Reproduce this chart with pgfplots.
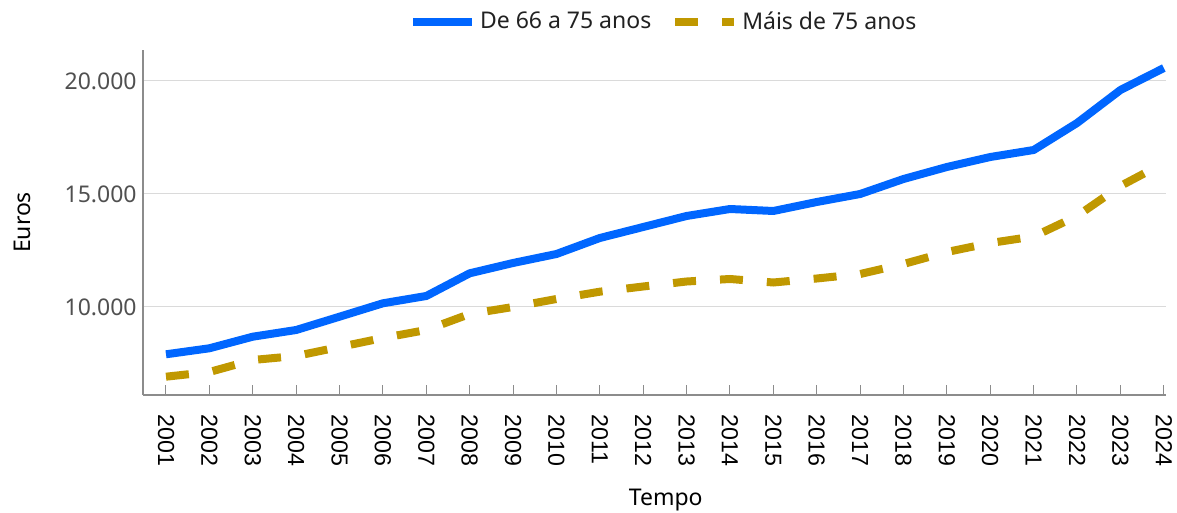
\documentclass[border=0pt]{standalone}
\usepackage{pgfplots}
\pgfplotsset{compat=1.18}
\usepackage{fontspec}
\setmainfont{Noto Sans}
\newfontfamily\arialfont{Liberation Sans}
\definecolor{cblue}{RGB}{0,102,255}
\definecolor{cgold}{RGB}{192,152,0}
\definecolor{axgray}{RGB}{140,140,140}
\definecolor{gridgray}{RGB}{218,218,218}
\definecolor{tickgray}{RGB}{80,80,80}
\begin{document}
\begin{tikzpicture}
\useasboundingbox (0,0) rectangle (588.5pt,256.5pt);
\begin{axis}[
  at={(71.5pt,59pt)}, anchor=south west,
  scale only axis, width=511.5pt, height=172.5pt,
  xmin=2000.47, xmax=2024.05,
  ymin=6106, ymax=21372,
  axis x line*=bottom, axis y line*=left,
  axis line style={axgray, line width=0.6pt},
  xtick={2001,...,2024},
  xticklabels={2001,2002,2003,2004,2005,2006,2007,2008,2009,2010,2011,2012,2013,2014,2015,2016,2017,2018,2019,2020,2021,2022,2023,2024},
  xtick align=inside,
  major tick length=5pt,
  xtick style={axgray, line width=0.5pt},
  xticklabel style={rotate=-90, anchor=west, inner sep=0pt, font=\arialfont\fontsize{11.6pt}{12pt}\selectfont, text=black},
  xticklabel shift=9.5pt,
  scaled y ticks=false,
  ytick={10000,15000,20000},
  yticklabels={10.000,15.000,20.000},
  ytick style={draw=none},
  yticklabel style={inner sep=0pt, font=\fontsize{11.5pt}{12pt}\selectfont, text=tickgray},
  yticklabel shift=3pt,
  ymajorgrids, grid style={gridgray, line width=0.5pt},
  xlabel={Tempo}, ylabel={Euros},
  every axis x label/.style={at={(axis description cs:0.511,-0.304)}, anchor=center, font=\fontsize{11.5pt}{12pt}\selectfont},
  every axis y label/.style={at={(axis description cs:-0.1183,0.5)}, rotate=90, anchor=center, font=\fontsize{11.5pt}{12pt}\selectfont},
  legend columns=2,
  legend style={at={(axis description cs:0.51,1.081)}, anchor=center, draw=none, fill=none,
    font=\fontsize{11.5pt}{12pt}\selectfont, text=black!87,
    /tikz/every even column/.append style={column sep=8pt}},
  legend image code/.code={\draw[#1] (0pt,0pt) -- (29.5pt,0pt);},
  clip=false,
]
\addplot[cblue, line width=4pt, line join=round] coordinates {
(2001,7907) (2002,8173) (2003,8686) (2004,8982) (2005,9571) (2006,10164)
(2007,10487) (2008,11491) (2009,11947) (2010,12345) (2011,13053) (2012,13540)
(2013,14027) (2014,14336) (2015,14248) (2016,14646) (2017,15000) (2018,15664)
(2019,16195) (2020,16637) (2021,16947) (2022,18142) (2023,19602) (2024,20575)
};
\addlegendentry{De 66 a 75 anos}
\addplot[cgold, line width=4pt, dash pattern=on 11.5pt off 12pt] coordinates {
(2001,6916) (2002,7124) (2003,7655) (2004,7832) (2005,8230) (2006,8628)
(2007,8982) (2008,9690) (2009,10000) (2010,10354) (2011,10677) (2012,10907)
(2013,11128) (2014,11239) (2015,11084) (2016,11261) (2017,11460) (2018,11903)
(2019,12434) (2020,12832) (2021,13119) (2022,14027) (2023,15354) (2024,16372)
};
\addlegendentry{Máis de 75 anos}
\end{axis}
\end{tikzpicture}
\end{document}
